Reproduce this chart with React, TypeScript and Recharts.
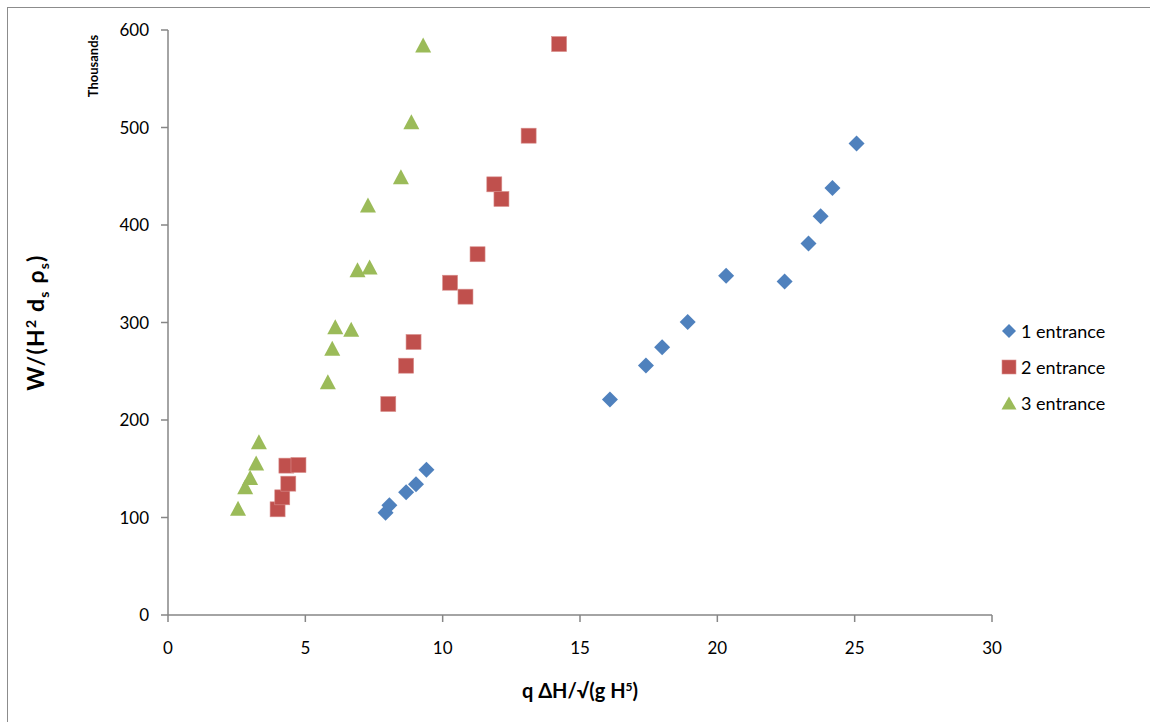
import React from 'react';
import { ScatterChart, Scatter, XAxis, YAxis, Legend } from 'recharts';

// Series values (y values shown in thousands)
const entrance1X = [7.92, 8.06, 8.67, 9.03, 9.41, 16.09, 17.40, 17.99, 18.92, 20.32, 22.45, 23.32, 23.76, 24.19, 25.07];
const entrance1Y = [105, 112.5, 126, 134, 149, 221, 256, 274.5, 300.5, 348, 342, 381, 409, 438, 483.6];

const entrance2X = [3.99, 4.16, 4.38, 4.31, 4.75, 8.02, 8.67, 8.94, 10.27, 10.83, 11.27, 11.88, 12.14, 13.13, 14.24];
const entrance2Y = [108.4, 120.7, 134.7, 153.2, 153.8, 216.4, 255.7, 280, 340.8, 326.5, 370, 441.7, 426.7, 491.6, 585.6];

const entrance3X = [2.55, 2.81, 2.99, 3.21, 3.31, 5.82, 5.98, 6.09, 6.67, 6.90, 7.34, 7.28, 8.48, 8.86, 9.29];
const entrance3Y = [109.4, 131.6, 141, 156, 177.7, 239.3, 273.6, 295.7, 293, 354, 357, 420.5, 449.5, 506, 584.6];

const seriesNames = ['1 entrance', '2 entrance', '3 entrance'];
const seriesColors = ['#4F81BD', '#C0504D', '#9BBB59'];
const xTicks = [0, 5, 10, 15, 20, 25, 30];
const yTicks = [0, 100, 200, 300, 400, 500, 600];

const toPoints = (xs: number[], ys: number[]) => xs.map((x, i) => ({ x, y: ys[i] }));
const data1 = toPoints(entrance1X, entrance1Y);
const data2 = toPoints(entrance2X, entrance2Y);
const data3 = toPoints(entrance3X, entrance3Y);

const FONT = 'Lato, "Open Sans", sans-serif';
const AXIS = '#868686';

const diamondPts = (cx: number, cy: number, r: number) =>
  `${cx},${cy - r} ${cx + r},${cy} ${cx},${cy + r} ${cx - r},${cy}`;
const trianglePts = (cx: number, cy: number, w: number, h: number) =>
  `${cx},${cy - h / 2} ${cx + w / 2},${cy + h / 2} ${cx - w / 2},${cy + h / 2}`;

const DiamondShape = (p: any) => <polygon points={diamondPts(p.cx, p.cy, 8)} fill={seriesColors[0]} />;
const SquareShape = (p: any) => (
  <rect x={p.cx - 7.5} y={p.cy - 7.5} width={15} height={15} fill={seriesColors[1]} stroke="#D9908E" strokeWidth={0.6} />
);
const TriangleShape = (p: any) => <polygon points={trianglePts(p.cx, p.cy, 16, 15)} fill={seriesColors[2]} />;

const legendIcon = (i: number) => {
  if (i === 0) return <polygon points={diamondPts(8, 8, 7)} fill={seriesColors[0]} />;
  if (i === 1) return <rect x={1} y={1} width={14} height={14} fill={seriesColors[1]} stroke="#D9908E" strokeWidth={0.6} />;
  return <polygon points={trianglePts(8, 8, 15, 13)} fill={seriesColors[2]} />;
};

const renderLegend = (props: any) => {
  const payload = props.payload || [];
  return (
    <div style={{ fontFamily: FONT, fontSize: 18, color: '#000' }}>
      {payload.map((entry: any) => (
        <div key={entry.value} style={{ display: 'flex', alignItems: 'center', height: 36 }}>
          <svg width={16} height={16}>{legendIcon(seriesNames.indexOf(entry.value))}</svg>
          <span style={{ marginLeft: 4 }}>{entry.value}</span>
        </div>
      ))}
    </div>
  );
};

const YTitle = (props: any) => {
  const vb = props.viewBox || { x: 0, y: 30, width: 168, height: 585 };
  const cx = vb.x + 44;
  const cy = vb.y + vb.height / 2;
  return (
    <g fontFamily={FONT} fontWeight="bold" fill="#000">
      <text transform={`translate(${cx},${cy}) rotate(-90)`} textAnchor="middle" fontSize={23} letterSpacing={1.2}>
        W/(H<tspan dy={-8} fontSize={14}>2</tspan>
        <tspan dy={8}> d</tspan>
        <tspan dy={5} fontSize={14}>s</tspan>
        <tspan dy={-5}> ρ</tspan>
        <tspan dy={5} fontSize={14}>s</tspan>
        <tspan dy={-5}>)</tspan>
      </text>
      <text transform={`translate(${vb.x + 98},${vb.y + 36}) rotate(-90)`} textAnchor="middle" fontSize={13}>
        Thousands
      </text>
    </g>
  );
};

const XTitle = (props: any) => {
  const vb = props.viewBox || { x: 168, y: 615, width: 824, height: 107 };
  return (
    <text x={vb.x + vb.width / 2} y={vb.y + 83} textAnchor="middle" fontFamily={FONT} fontWeight="bold" fontSize={20} fill="#000">
      q ΔH/√(g H<tspan dy={-7} fontSize={12}>5</tspan>
      <tspan dy={7}>)</tspan>
    </text>
  );
};

export default function App() {
  return (
    <div style={{ position: 'absolute', left: 0, top: 0, width: 1150, height: 722, background: '#fff' }}>
      <div
        style={{
          position: 'absolute',
          left: 7,
          top: 7,
          width: 1143,
          height: 715,
          borderLeft: '1.5px solid #8c8c8c',
          borderTop: '1.5px solid #8c8c8c',
          boxSizing: 'border-box',
        }}
      />
      <div style={{ position: 'absolute', left: 0, top: 0 }}>
        <ScatterChart width={1150} height={722} margin={{ top: 30, right: 158, bottom: 0, left: 0 }}>
          <XAxis
            type="number"
            dataKey="x"
            domain={[0, 30]}
            ticks={xTicks}
            allowDataOverflow
            height={107}
            tickSize={7}
            tickMargin={20}
            axisLine={{ stroke: AXIS, strokeWidth: 1.5 }}
            tickLine={{ stroke: AXIS, strokeWidth: 1.5 }}
            tick={{ fill: '#000', fontFamily: FONT, fontSize: 17 }}
            label={<XTitle />}
          />
          <YAxis
            type="number"
            dataKey="y"
            domain={[0, 600]}
            ticks={yTicks}
            allowDataOverflow
            width={168}
            tickSize={7}
            tickMargin={12}
            axisLine={{ stroke: AXIS, strokeWidth: 1.5 }}
            tickLine={{ stroke: AXIS, strokeWidth: 1.5 }}
            tick={{ fill: '#000', fontFamily: FONT, fontSize: 17 }}
            label={<YTitle />}
          />
          <Legend
            layout="vertical"
            align="center"
            verticalAlign="middle"
            content={renderLegend}
            wrapperStyle={{ position: 'absolute', left: 1001, top: 313, width: 140 }}
          />
          <Scatter name={seriesNames[0]} data={data1} fill={seriesColors[0]} shape={<DiamondShape />} isAnimationActive={false} />
          <Scatter name={seriesNames[1]} data={data2} fill={seriesColors[1]} shape={<SquareShape />} isAnimationActive={false} />
          <Scatter name={seriesNames[2]} data={data3} fill={seriesColors[2]} shape={<TriangleShape />} isAnimationActive={false} />
        </ScatterChart>
      </div>
    </div>
  );
}
